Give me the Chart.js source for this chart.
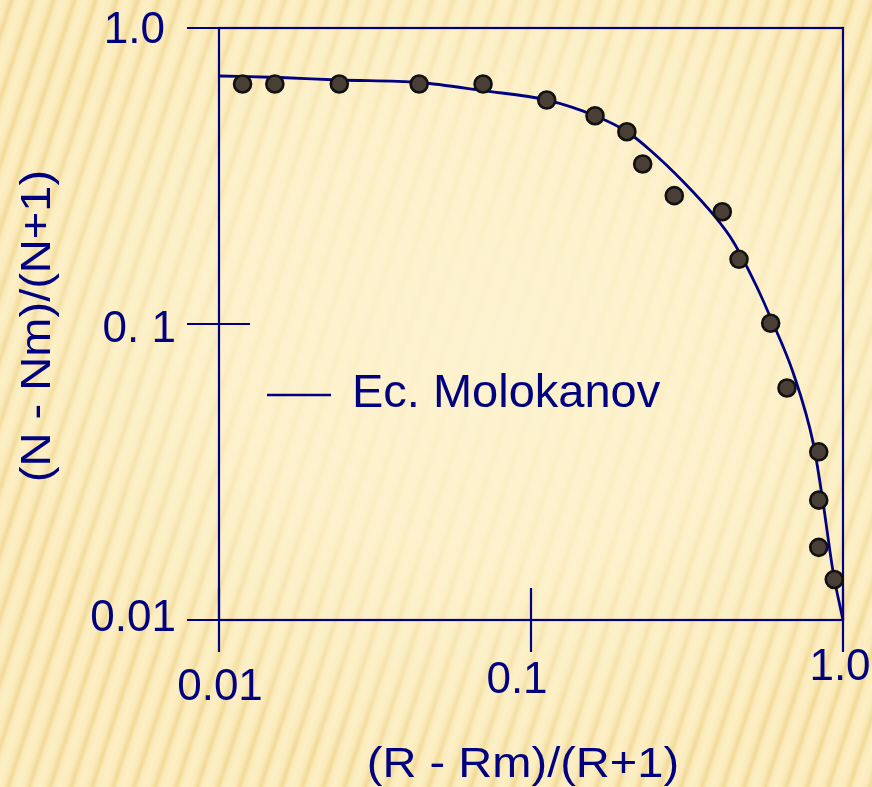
<!DOCTYPE html>
<html>
<head>
<meta charset="utf-8">
<title>Molokanov</title>
<script src="https://cdn.jsdelivr.net/npm/chart.js@4.4.1/dist/chart.umd.min.js"></script>
<style>
    html, body {
        margin: 0;
        width: 872px;
        height: 787px;
        overflow: hidden;
    }
    body {
        background:
            radial-gradient(ellipse 60% 56% at 57% 43%, rgba(253, 243, 208, 0.96) 0%, rgba(253, 243, 208, 0.72) 50%, rgba(253, 243, 208, 0) 100%),
            repeating-linear-gradient(108deg, #FCEFC5 0px, #FBEBBB 6px, #F1DA98 11px, #FBEBBB 15px, #FCEFC5 20px);
    }
    canvas { display: block; }
</style>
</head>
<body>
<canvas id="chart" width="872" height="787"></canvas>
<script>
// Tick values and labels
const xTicks = [0.01, 0.1, 1];
const xTickLabels = ['0.01', '0.1', '1.0'];
const yTicks = [0.01, 0.1, 1];
const yTickLabels = ['0.01', '0. 1', '1.0'];

// Observed points (R - Rm)/(R+1) vs (N - Nm)/(N+1)
const obsX = [0.0119, 0.0151, 0.0243, 0.0438, 0.0702, 0.1123, 0.1604, 0.2029, 0.228, 0.2879,
              0.4103, 0.4642, 0.5864, 0.6614, 0.8361, 0.8361, 0.8361, 0.9378];
const obsY = [0.647, 0.647, 0.647, 0.647, 0.647, 0.571, 0.5054, 0.4462, 0.3471, 0.2714,
              0.2395, 0.1654, 0.1006, 0.0608, 0.0370, 0.0254, 0.0176, 0.0137];

// Molokanov curve
const fitX = [0.01, 0.0157, 0.0242, 0.0438, 0.0702, 0.1125, 0.1604, 0.2031, 0.2406, 0.3077,
              0.3889, 0.445, 0.5291, 0.5864, 0.693, 0.8031, 0.8609, 0.9309, 1.0];
const fitY = [0.6885, 0.6805, 0.6673, 0.6545, 0.6141, 0.5709, 0.5054, 0.4462, 0.3872, 0.3024,
              0.2304, 0.1897, 0.1336, 0.1048, 0.0682, 0.0395, 0.0254, 0.0144, 0.01];

const NAVY = '#000080';
const FONT = "'Liberation Sans', Arial, sans-serif";

// Frame, crossing ticks, labels, titles and legend
const frameTicks = {
    id: 'frameTicks',
    beforeDatasetsDraw(chart) {
        const { ctx, chartArea: a, scales: { x, y } } = chart;
        ctx.save();
        ctx.strokeStyle = NAVY;
        ctx.lineWidth = 2.2;
        ctx.strokeRect(a.left, a.top, a.right - a.left, a.bottom - a.top);

        ctx.beginPath();
        yTicks.forEach(v => {
            const py = y.getPixelForValue(v);
            ctx.moveTo(a.left - 32, py);
            ctx.lineTo(a.left + 31, py);
        });
        xTicks.forEach(v => {
            const px = x.getPixelForValue(v);
            ctx.moveTo(px, a.bottom - 32);
            ctx.lineTo(px, a.bottom + 32);
        });
        ctx.stroke();

        ctx.fillStyle = NAVY;
        ctx.font = `44px ${FONT}`;

        // y tick labels
        const yDx = [0, 0, -11];
        const yDy = [11, 18, 15];
        ctx.textAlign = 'right';
        ctx.textBaseline = 'alphabetic';
        yTicks.forEach((v, i) => {
            ctx.fillText(yTickLabels[i], a.left - 43 + yDx[i], y.getPixelForValue(v) + yDy[i]);
        });

        // x tick labels
        const xDx = [1, -14, -3];
        const xDy = [80, 73, 60];
        ctx.textAlign = 'center';
        xTicks.forEach((v, i) => {
            ctx.fillText(xTickLabels[i], x.getPixelForValue(v) + xDx[i], a.bottom + xDy[i]);
        });

        // axis titles
        ctx.font = `42px ${FONT}`;
        ctx.save();
        ctx.translate(523, 777);
        ctx.scale(1.12, 1);
        ctx.fillText('(R - Rm)/(R+1)', 0, 0);
        ctx.restore();

        ctx.save();
        ctx.translate(50, 326);
        ctx.rotate(-Math.PI / 2);
        ctx.scale(1.12, 1);
        ctx.fillText('(N - Nm)/(N+1)', 0, 0);
        ctx.restore();

        // legend
        ctx.lineWidth = 2.5;
        ctx.beginPath();
        ctx.moveTo(267, 395);
        ctx.lineTo(331, 395);
        ctx.stroke();
        ctx.font = `47px ${FONT}`;
        ctx.textAlign = 'left';
        ctx.fillText(chart.data.datasets[1].label, 352, 407);

        ctx.restore();
    }
};

const chart = new Chart(document.getElementById('chart'), {
    type: 'scatter',
    data: {
        datasets: [
            {
                label: 'Datos',
                data: obsX.map((v, i) => ({ x: v, y: obsY[i] })),
                pointRadius: 8.5,
                pointBackgroundColor: '#4A3F36',
                pointBorderColor: '#111111',
                pointBorderWidth: 2.6,
                clip: false,
                order: 0
            },
            {
                label: 'Ec. Molokanov',
                type: 'line',
                data: fitX.map((v, i) => ({ x: v, y: fitY[i] })),
                borderColor: NAVY,
                borderWidth: 2.8,
                pointRadius: 0,
                fill: false,
                cubicInterpolationMode: 'monotone',
                clip: false,
                order: 1
            }
        ]
    },
    options: {
        responsive: false,
        animation: false,
        layout: { padding: { left: 219, right: 29, top: 28, bottom: 167 } },
        scales: {
            x: { type: 'logarithmic', min: 0.01, max: 1, display: false },
            y: { type: 'logarithmic', min: 0.01, max: 1, display: false }
        },
        plugins: {
            legend: { display: false },
            tooltip: { enabled: false }
        }
    },
    plugins: [frameTicks]
});
</script>
</body>
</html>
